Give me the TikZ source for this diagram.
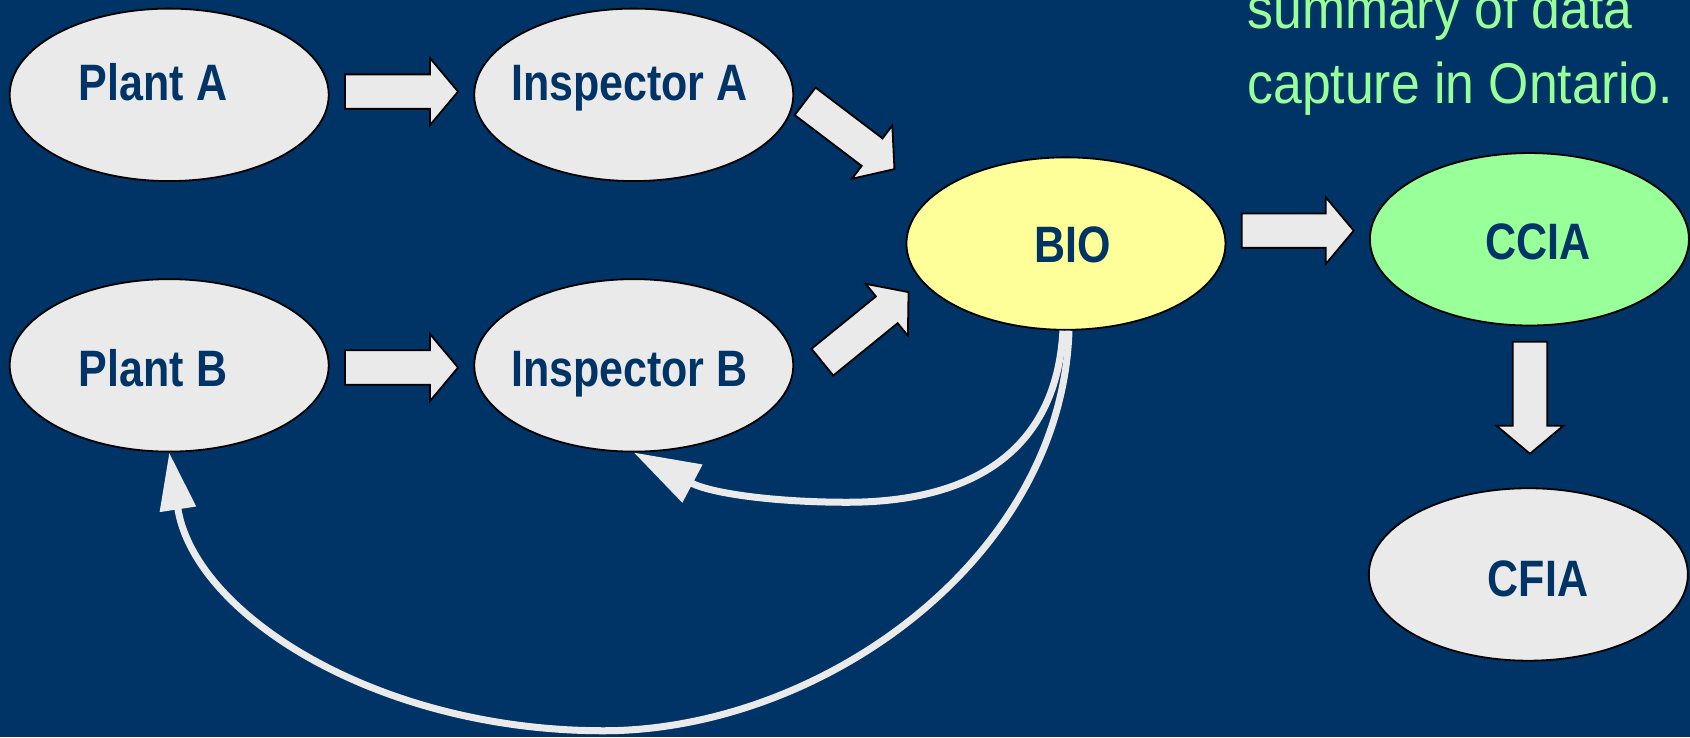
\documentclass[tikz,border=0pt]{standalone}
\usepackage{fontspec}
\setmainfont[FakeStretch=0.84]{Liberation Sans}
\newfontfamily\notefont[FakeStretch=0.9]{Liberation Sans}
\usetikzlibrary{shapes.geometric,arrows.meta,calc}
\definecolor{bgnavy}{RGB}{0,51,102}
\definecolor{light}{RGB}{234,234,234}
\definecolor{bioyel}{RGB}{255,255,153}
\definecolor{mint}{RGB}{153,255,153}
\tikzset{
  oval/.style={ellipse, draw=black, line width=1pt, fill=light,
    minimum width=177.6pt, minimum height=96pt, inner sep=0pt},
  lbl/.style={font=\fontsize{28.5}{34}\selectfont\bfseries, text=bgnavy,
    inner sep=0pt, text height=20.4pt, text depth=0pt},
  note/.style={font=\notefont\fontsize{32}{38}\selectfont, text=mint,
    inner sep=0pt, anchor=base west},
  blk/.style={draw=black, line width=1pt, fill=light, line join=miter},
  ret/.style={draw=light, line width=3.9pt,
    -{Triangle[length=37pt,width=23pt]}},
}
% block arrow from one named coordinate to another
\newcommand\blockarrow[2]{%
  \path let \p1=($(#2)-(#1)$), \n1={atan2(\y1,\x1)}, \n2={veclen(\x1,\y1)} in
    \pgfextra{\xdef\blkang{\n1}\xdef\blklen{\n2}};
  \begin{scope}[shift={(#1)}, rotate=\blkang]
    \draw[blk] (0pt,-9.6pt) -- ({\blklen*1pt-15.6pt},-9.6pt)
      -- ({\blklen*1pt-15.6pt},-18.6pt) -- ({\blklen*1pt},0pt)
      -- ({\blklen*1pt-15.6pt},18.6pt) -- ({\blklen*1pt-15.6pt},9.6pt)
      -- (0pt,9.6pt) -- cycle;
  \end{scope}}
\begin{document}
\begin{tikzpicture}[x=0.6pt, y=-0.6pt]
  \useasboundingbox (0,0) rectangle (1568,684);
  \fill[bgnavy] (0,0) rectangle (1568,684);
  \clip (0,0) rectangle (1568,684);
  % ovals
  \node[oval] (plantA) at (157,88) {};
  \node[oval] (inspA) at (588,88) {};
  \node[oval] (plantB) at (157,339) {};
  \node[oval] (inspB) at (588,339) {};
  \node[oval, fill=bioyel] (bio) at (989,226) {};
  \node[oval, fill=mint] (ccia) at (1419,222) {};
  \node[oval] (cfia) at (1418,533) {};
  % labels
  \node[lbl] (tplantA) at (142,76) {Plant A};
  \node[lbl] (tinspA) at (584,76) {Inspector A};
  \node[lbl] (tplantB) at (142,342) {Plant B};
  \node[lbl] (tinspB) at (584,342) {Inspector B};
  \node[lbl] (tbio) at (995,227) {BIO};
  \node[lbl] (tccia) at (1427,224) {CCIA};
  \node[lbl] (tcfia) at (1427,536) {CFIA};
  % block arrows
  \coordinate (a1s) at (320,85);  \coordinate (a1e) at (425,85);
  \coordinate (a2s) at (320,341); \coordinate (a2e) at (425,341);
  \coordinate (a3s) at (747,94);  \coordinate (a3e) at (830,157);
  \coordinate (a4s) at (763,336); \coordinate (a4e) at (843,271);
  \coordinate (a5s) at (1152,214); \coordinate (a5e) at (1256,214);
  \coordinate (a6s) at (1419.5,317); \coordinate (a6e) at (1419.5,421);
  \blockarrow{a1s}{a1e}
  \blockarrow{a2s}{a2e}
  \blockarrow{a3s}{a3e}
  \blockarrow{a4s}{a4e}
  \blockarrow{a5s}{a5e}
  \blockarrow{a6s}{a6e}
  % feedback
  \draw[ret] (bio.268) .. controls (980,420) and (900,466) .. (786,466)
    .. controls (720,466) and (660,458) .. (inspB.south);
  \draw[ret, -{Triangle[length=32pt,width=19.5pt]}] (bio.272)
    .. controls (985,520) and (760,678) .. (560,678)
    .. controls (350,678) and (180,570) .. (plantB.south);
  % note
  \node[note] (note1) at (1157,26) {summary of data};
  \node[note] (note2) at (1157,96) {capture in Ontario.};
\end{tikzpicture}
\end{document}
